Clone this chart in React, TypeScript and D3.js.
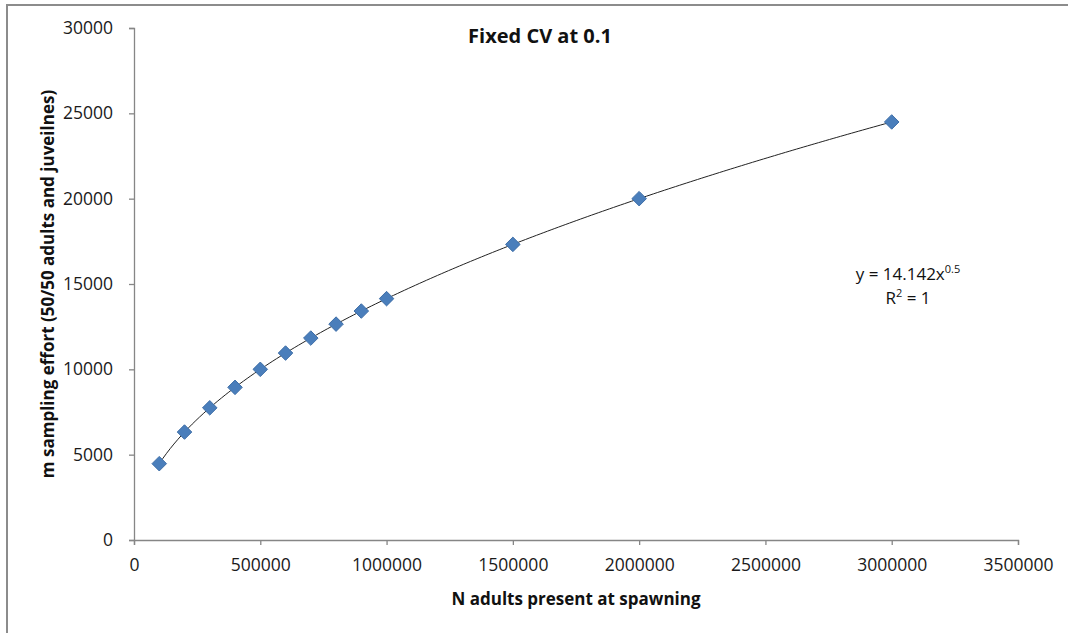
import React, { useEffect, useRef } from 'react';
import * as d3 from 'd3';

// N adults present at spawning
const nAdults = [100000, 200000, 300000, 400000, 500000, 600000, 700000, 800000, 900000, 1000000, 1500000, 2000000, 3000000];
// m sampling effort
const effort = [4472, 6325, 7746, 8944, 10000, 10954, 11832, 12649, 13416, 14142, 17321, 20000, 24495];

const xTicks = [0, 500000, 1000000, 1500000, 2000000, 2500000, 3000000, 3500000];
const yTicks = [0, 5000, 10000, 15000, 20000, 25000, 30000];

const FONT = '"Open Sans", "Noto Sans", sans-serif';

export default function App() {
    const svgRef = useRef<SVGSVGElement>(null);

    useEffect(() => {
        if (!svgRef.current) return;
        const width = 1068;
        const height = 633;
        const margin = { top: 28, right: 50, bottom: 93, left: 134 };

        const svg = d3.select(svgRef.current);
        svg.selectAll('*').remove();

        // chart frame (only top/left visible in the crop)
        svg.append('rect')
            .attr('x', 7).attr('y', 5)
            .attr('width', width + 20).attr('height', height + 20)
            .attr('fill', '#fff')
            .attr('stroke', '#8c8c8c')
            .attr('stroke-width', 2);

        const x = d3.scaleLinear().domain([0, 3500000]).range([margin.left, width - margin.right]);
        const y = d3.scaleLinear().domain([0, 30000]).range([height - margin.bottom, margin.top]);

        const axisColor = '#868686';

        // x axis
        const gx = svg.append('g')
            .attr('transform', `translate(0,${y(0)})`)
            .call(d3.axisBottom(x).tickValues(xTicks).tickSize(5).tickPadding(14).tickFormat(d => String(d)));
        gx.select('.domain').attr('stroke', axisColor).attr('stroke-width', 1.3);
        gx.selectAll('line').attr('stroke', axisColor).attr('stroke-width', 1.3);
        gx.selectAll('text').attr('fill', '#1a1a1a').style('font-family', FONT).style('font-size', '17.5px');

        // y axis
        const gy = svg.append('g')
            .attr('transform', `translate(${x(0)},0)`)
            .call(d3.axisLeft(y).tickValues(yTicks).tickSize(5).tickPadding(16).tickFormat(d => String(d)));
        gy.select('.domain').attr('stroke', axisColor).attr('stroke-width', 1.3);
        gy.selectAll('line').attr('stroke', axisColor).attr('stroke-width', 1.3);
        gy.selectAll('text').attr('fill', '#1a1a1a').style('font-family', FONT).style('font-size', '17.5px');

        // power trendline fitted to the points (log-log least squares)
        const lx = nAdults.map(Math.log);
        const ly = effort.map(Math.log);
        const mx = d3.mean(lx)!;
        const my = d3.mean(ly)!;
        const b = d3.sum(lx.map((v, i) => (v - mx) * (ly[i] - my))) / d3.sum(lx.map(v => (v - mx) ** 2));
        const a = Math.exp(my - b * mx);
        const xMin = d3.min(nAdults)!;
        const xMax = d3.max(nAdults)!;
        const samples = d3.range(0, 201).map(i => xMin + (xMax - xMin) * i / 200);

        svg.append('path')
            .datum(samples)
            .attr('fill', 'none')
            .attr('stroke', '#222')
            .attr('stroke-width', 1)
            .attr('d', d3.line<number>().x(d => x(d)).y(d => y(a * Math.pow(d, b))));

        // diamond markers
        const diamond = d3.symbol().type(d3.symbolDiamond2).size(135);
        svg.append('g')
            .selectAll('path')
            .data(nAdults.map((n, i) => ({ n, m: effort[i] })))
            .enter()
            .append('path')
            .attr('transform', d => `translate(${x(d.n)},${y(d.m)})`)
            .attr('d', diamond)
            .attr('fill', '#4a7ebb')
            .attr('stroke', '#3f6fa8')
            .attr('stroke-width', 1);

        // title
        svg.append('text')
            .attr('x', 540).attr('y', 43)
            .attr('text-anchor', 'middle')
            .style('font-family', FONT).style('font-weight', 'bold').style('font-size', '20px')
            .attr('fill', '#111')
            .text('Fixed CV at 0.1');

        // axis titles
        svg.append('text')
            .attr('x', (x(0) + x(3500000)) / 2).attr('y', 605)
            .attr('text-anchor', 'middle')
            .style('font-family', FONT).style('font-weight', 'bold').style('font-size', '17px')
            .attr('fill', '#111')
            .text('N adults present at spawning');

        svg.append('text')
            .attr('transform', `translate(54,${(y(0) + y(30000)) / 2}) rotate(-90)`)
            .attr('text-anchor', 'middle')
            .style('font-family', FONT).style('font-weight', 'bold').style('font-size', '17px')
            .attr('fill', '#111')
            .text('m sampling effort (50/50 adults and juveilnes)');

        // trendline equation
        const eq = svg.append('text')
            .attr('x', 908).attr('y', 280)
            .attr('text-anchor', 'middle')
            .style('font-family', FONT).style('font-size', '17px')
            .attr('fill', '#111');
        eq.append('tspan').text(`y = ${a.toFixed(3)}x`);
        eq.append('tspan').attr('dy', -7).style('font-size', '11px').text(b.toFixed(1));

        const r2 = svg.append('text')
            .attr('x', 908).attr('y', 304)
            .attr('text-anchor', 'middle')
            .style('font-family', FONT).style('font-size', '17px')
            .attr('fill', '#111');
        r2.append('tspan').text('R');
        r2.append('tspan').attr('dy', -7).style('font-size', '11px').text('2');
        r2.append('tspan').attr('dy', 7).text(' = 1');
    }, []);

    return (
        <svg
            ref={svgRef}
            width={1068}
            height={633}
            viewBox="0 0 1068 633"
            style={{ position: 'absolute', left: 0, top: 0, background: '#fff' }}
        />
    );
}
